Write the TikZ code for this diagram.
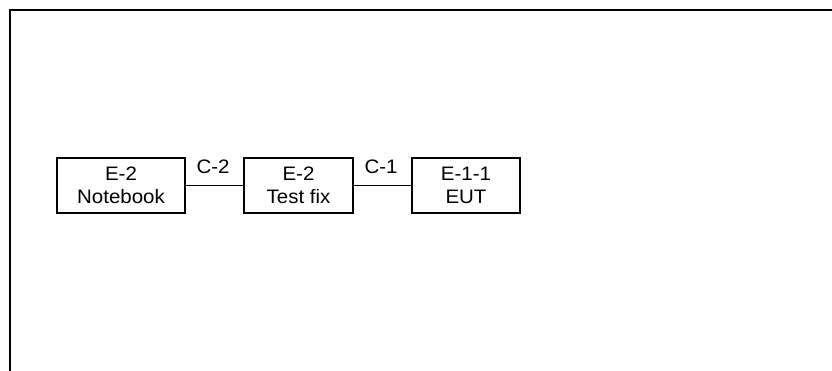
\documentclass[tikz,border=0pt]{standalone}
\usepackage{fontspec}
\setmainfont{Liberation Sans}[FakeStretch=1.05]
\begin{document}
\begin{tikzpicture}[x=1pt,y=-1pt,
  box/.style={draw,line width=1.4pt,minimum height=55pt,inner sep=0pt,align=center,font=\fontsize{19.5}{22.5}\selectfont},
  lbl/.style={font=\fontsize{19.5}{22.5}\selectfont,inner sep=0pt},
  wire/.style={line width=1.2pt}]
\useasboundingbox (0,0) rectangle (832,371);
\coordinate (fa) at (9.5,371);
\coordinate (fb) at (9.5,10.5);
\coordinate (fc) at (832,10.5);
\draw[line width=2pt] (fa) -- (fb) -- (fc);
\node[box,minimum width=128pt] (nb) at (121,185.5) {E-2\\Notebook};
\node[box,minimum width=109pt] (tf) at (298.5,185.5) {E-2\\Test fix};
\node[box,minimum width=108pt] (eut) at (466,185.5) {E-1-1\\EUT};
\draw[wire] (nb) -- (tf);
\draw[wire] (tf) -- (eut);
\node[lbl] (c2) at (213,167) {C-2};
\node[lbl] (c1) at (381,167) {C-1};
\end{tikzpicture}
\end{document}
